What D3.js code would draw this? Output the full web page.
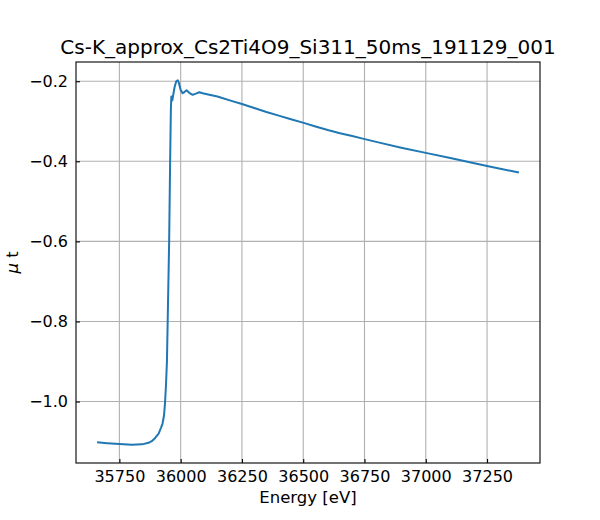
<!DOCTYPE html>
<html>
<head>
<meta charset="utf-8">
<script src="https://cdn.jsdelivr.net/npm/d3@7"></script>
<style>
  body { margin: 0; background: #fff; }
  svg { font-family: "DejaVu Sans", sans-serif; }
</style>
</head>
<body>
<svg id="chart" width="600" height="520"></svg>
<script>
// energy [eV] and mu t
const energy = [
  35659, 35700, 35750, 35800, 35842, 35869, 35882, 35896, 35910, 35920,
  35926, 35932, 35936, 35940, 35944, 35947, 35953, 35957, 35960, 35962,
  35964, 35966, 35968, 35975, 35982, 35988, 35993, 36000, 36008, 36013,
  36024, 36035, 36049, 36062, 36076, 36090, 36112, 36150, 36207, 36250,
  36300, 36350, 36400, 36450, 36502, 36550, 36600, 36650, 36700, 36747,
  36815, 36900, 37000, 37100, 37250, 37380
];
const mu = [
  -1.102, -1.104, -1.106, -1.108, -1.107, -1.103, -1.099, -1.091, -1.080, -1.065,
  -1.055, -1.035, -1.005, -0.960, -0.900, -0.800, -0.600, -0.400, -0.270, -0.238,
  -0.245, -0.248, -0.240, -0.215, -0.200, -0.1975, -0.205, -0.222, -0.230, -0.228,
  -0.2225, -0.229, -0.234, -0.231, -0.2275, -0.230, -0.233, -0.238, -0.249, -0.257,
  -0.267, -0.277, -0.286, -0.295, -0.304, -0.313, -0.322, -0.330, -0.337, -0.344,
  -0.354, -0.366, -0.379, -0.392, -0.4115, -0.428
];
const xTicks = [35750, 36000, 36250, 36500, 36750, 37000, 37250];
const yTicks = [-1.0, -0.8, -0.6, -0.4, -0.2];
const title = "Cs-K_approx_Cs2Ti4O9_Si311_50ms_191129_001";

const margin = { top: 62, right: 60, bottom: 57, left: 76 };
const width = 600, height = 520;
const innerW = width - margin.left - margin.right;
const innerH = height - margin.top - margin.bottom;

const points = energy.map((e, i) => ({ e, m: mu[i] }));

// matplotlib-like 5% padding on both axes
const xExt = d3.extent(energy);
const yExt = d3.extent(mu);
const xPad = (xExt[1] - xExt[0]) * 0.05;
const yPad = (yExt[1] - yExt[0]) * 0.05;

const x = d3.scaleLinear().domain([xExt[0] - xPad, xExt[1] + xPad]).range([0, innerW]);
const y = d3.scaleLinear().domain([yExt[0] - yPad, yExt[1] + yPad]).range([innerH, 0]);

const svg = d3.select("#chart");
const g = svg.append("g").attr("transform", `translate(${margin.left},${margin.top})`);

// grid
g.append("g")
  .selectAll("line")
  .data(xTicks)
  .join("line")
  .attr("x1", (d) => x(d)).attr("x2", (d) => x(d))
  .attr("y1", 0).attr("y2", innerH)
  .attr("stroke", "#b0b0b0").attr("stroke-width", 1.1);

g.append("g")
  .selectAll("line")
  .data(yTicks)
  .join("line")
  .attr("y1", (d) => y(d)).attr("y2", (d) => y(d))
  .attr("x1", 0).attr("x2", innerW)
  .attr("stroke", "#b0b0b0").attr("stroke-width", 1.1);

// data line
const line = d3.line().x((d) => x(d.e)).y((d) => y(d.m));
g.append("path")
  .datum(points)
  .attr("fill", "none")
  .attr("stroke", "#1f77b4")
  .attr("stroke-width", 2)
  .attr("stroke-linejoin", "round")
  .attr("d", line);

// axes with inward ticks
const fmtY = (d) => d3.format(".1f")(d).replace("-", "\u2212");
const gx = g.append("g")
  .attr("transform", `translate(0,${innerH})`)
  .call(d3.axisBottom(x).tickValues(xTicks).tickFormat(d3.format("d")).tickSizeInner(-4).tickSizeOuter(0).tickPadding(8));
const gy = g.append("g")
  .call(d3.axisLeft(y).tickValues(yTicks).tickFormat(fmtY).tickSizeInner(-4).tickSizeOuter(0).tickPadding(8));

[gx, gy].forEach((a) => {
  a.select(".domain").remove();
  a.selectAll(".tick line").attr("stroke", "#000").attr("stroke-width", 1.1);
  a.selectAll(".tick text")
    .attr("fill", "#000")
    .style("font-size", "16px")
    .style("font-family", "DejaVu Sans");
});

// frame
g.append("rect")
  .attr("width", innerW).attr("height", innerH)
  .attr("fill", "none").attr("stroke", "#000").attr("stroke-width", 1.1);

// labels
svg.append("text")
  .attr("x", margin.left + innerW / 2)
  .attr("y", 54)
  .attr("text-anchor", "middle")
  .style("font-size", "20px")
  .text(title);

svg.append("text")
  .attr("x", margin.left + innerW / 2)
  .attr("y", 503)
  .attr("text-anchor", "middle")
  .style("font-size", "16.5px")
  .text("Energy [eV]");

const yl = svg.append("text")
  .attr("transform", `translate(18,${margin.top + innerH / 2}) rotate(-90)`)
  .attr("text-anchor", "middle")
  .style("font-size", "16.5px");
yl.append("tspan").style("font-style", "italic").text("\u03bc");
yl.append("tspan").text(" t");
</script>
</body>
</html>
